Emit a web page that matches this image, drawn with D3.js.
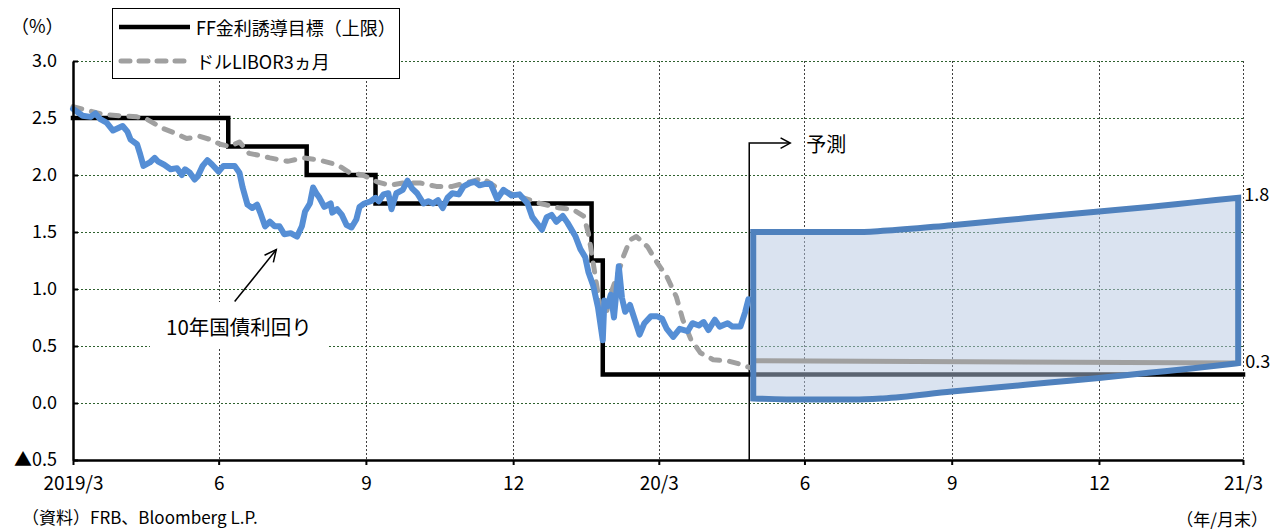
<!DOCTYPE html>
<html>
<head>
<meta charset="utf-8">
<script src="https://cdn.jsdelivr.net/npm/d3@7"></script>
<style>
  body { margin: 0; background: #fff; }
  svg { display: block; font-family: "Noto Sans CJK JP", "Liberation Sans", sans-serif; }
</style>
</head>
<body>
<svg id="chart" width="1270" height="530"></svg>
<script>
// ---- axis categories ----
const xTickDates  = ["2019-03-31","2019-06-30","2019-09-30","2019-12-31","2020-03-31","2020-06-30","2020-09-30","2020-12-31","2021-03-31"];
const xTickLabels = ["2019/3","6","9","12","20/3","6","9","12","21/3"];
const yTicks = [-0.5, 0, 0.5, 1.0, 1.5, 2.0, 2.5, 3.0];

// ---- FF rate target (upper bound), step changes ----
const ffDates = ["2019-03-31","2019-07-06","2019-08-24","2019-10-06","2020-02-18","2020-02-25","2021-03-31"];
const ffRate  = [2.50, 2.25, 2.00, 1.75, 1.25, 0.25, 0.25];

// ---- USD LIBOR 3M ----
const liborDates = ["2019-03-31","2019-04-11","2019-04-19","2019-04-29","2019-05-10","2019-05-16","2019-05-26","2019-06-04","2019-06-10","2019-06-18",
  "2019-06-25","2019-07-01","2019-07-07","2019-07-13","2019-07-19","2019-07-26","2019-08-01","2019-08-12","2019-08-22","2019-09-01",
  "2019-09-12","2019-09-20","2019-09-28","2019-10-07","2019-10-15","2019-10-23","2019-11-03","2019-11-13","2019-11-23","2019-12-04",
  "2019-12-12","2019-12-23","2020-01-04","2020-01-17","2020-01-29","2020-02-06","2020-02-13","2020-02-16","2020-02-19","2020-02-21",
  "2020-02-23","2020-02-27","2020-03-02","2020-03-07","2020-03-09","2020-03-13","2020-03-17","2020-03-24","2020-03-30","2020-04-05",
  "2020-04-11","2020-04-15","2020-04-20","2020-04-26","2020-05-04","2020-05-13","2020-05-21","2020-05-27"];
const liborRate = [2.60,2.56,2.53,2.52,2.51,2.49,2.41,2.36,2.32,2.34,
  2.31,2.27,2.25,2.29,2.19,2.17,2.15,2.12,2.15,2.13,
  2.09,2.02,2.00,1.94,1.91,1.93,1.93,1.90,1.90,1.94,
  1.97,1.87,1.81,1.75,1.71,1.70,1.64,1.49,1.23,1.05,
  0.88,0.78,1.00,1.20,1.29,1.43,1.46,1.37,1.23,1.11,
  0.93,0.73,0.56,0.44,0.38,0.37,0.34,0.31];

// ---- US 10-year Treasury yield ----
const ustDates = [
  "2019-03-31","2019-04-01","2019-04-06","2019-04-11","2019-04-14","2019-04-17","2019-04-21","2019-04-25",
  "2019-05-01","2019-05-04","2019-05-06","2019-05-10","2019-05-12","2019-05-14","2019-05-18","2019-05-21","2019-05-23","2019-05-27","2019-05-31",
  "2019-06-04","2019-06-07","2019-06-09","2019-06-12","2019-06-15","2019-06-17","2019-06-20","2019-06-23","2019-06-26","2019-06-30",
  "2019-07-03","2019-07-07","2019-07-10","2019-07-13","2019-07-15","2019-07-18","2019-07-21","2019-07-24","2019-07-26","2019-07-29",
  "2019-08-01","2019-08-04","2019-08-07","2019-08-10","2019-08-14","2019-08-18","2019-08-21","2019-08-23","2019-08-26","2019-08-28","2019-08-30",
  "2019-09-01","2019-09-04","2019-09-08","2019-09-09","2019-09-12","2019-09-15","2019-09-18","2019-09-21","2019-09-24","2019-09-26","2019-09-29",
  "2019-10-03","2019-10-06","2019-10-08","2019-10-11","2019-10-14","2019-10-16","2019-10-19","2019-10-23","2019-10-26","2019-10-29",
  "2019-11-01","2019-11-05","2019-11-08","2019-11-11","2019-11-14","2019-11-17","2019-11-20","2019-11-23","2019-11-27","2019-11-30",
  "2019-12-04","2019-12-07","2019-12-10","2019-12-13","2019-12-17","2019-12-21","2019-12-25","2019-12-30",
  "2020-01-04","2020-01-09","2020-01-12","2020-01-18","2020-01-21","2020-01-24","2020-01-27","2020-01-31",
  "2020-02-03","2020-02-08","2020-02-11","2020-02-14","2020-02-16","2020-02-19","2020-02-22","2020-02-25","2020-02-26","2020-02-28",
  "2020-03-01","2020-03-03","2020-03-06","2020-03-08","2020-03-10","2020-03-13","2020-03-16","2020-03-19","2020-03-22","2020-03-26","2020-03-30",
  "2020-04-02","2020-04-05","2020-04-09","2020-04-13","2020-04-18","2020-04-21","2020-04-25","2020-04-28",
  "2020-05-01","2020-05-05","2020-05-08","2020-05-13","2020-05-16","2020-05-21","2020-05-24","2020-05-26"];
const ustYield = [
  2.58,2.57,2.52,2.51,2.54,2.49,2.46,2.39,
  2.43,2.38,2.31,2.27,2.18,2.08,2.11,2.15,2.12,2.09,2.05,
  2.06,2.00,2.05,2.02,1.96,1.99,2.08,2.13,2.09,2.03,
  2.08,2.08,2.08,2.02,1.89,1.74,1.71,1.74,1.67,1.55,
  1.59,1.55,1.55,1.48,1.49,1.46,1.55,1.68,1.75,1.89,1.84,
  1.80,1.72,1.75,1.67,1.70,1.65,1.56,1.54,1.61,1.72,1.75,
  1.77,1.80,1.77,1.83,1.84,1.70,1.84,1.87,1.95,1.88,
  1.84,1.75,1.77,1.75,1.78,1.71,1.80,1.84,1.83,1.90,
  1.93,1.94,1.91,1.92,1.92,1.79,1.87,1.82,
  1.83,1.75,1.63,1.52,1.63,1.65,1.59,1.64,
  1.58,1.46,1.35,1.28,1.15,1.03,0.84,0.55,0.90,0.85,
  0.95,0.75,1.20,0.92,0.80,0.86,0.73,0.60,0.70,0.76,0.76,
  0.74,0.65,0.58,0.65,0.63,0.70,0.68,0.71,
  0.64,0.73,0.67,0.70,0.67,0.67,0.80,0.91];

// ---- forecast range for the 10-year yield ----
const fcDates = ["2020-05-29","2020-06-30","2020-07-31","2020-08-18","2020-09-30","2020-10-31","2020-11-30","2020-12-31","2021-01-31","2021-02-28","2021-03-28"];
const fcUpper = [1.50,1.50,1.50,1.51,1.56,1.60,1.64,1.68,1.72,1.76,1.80];
const fcLower = [0.04,0.03,0.03,0.04,0.10,0.14,0.18,0.22,0.265,0.305,0.35];

// ---- LIBOR forecast path ----
const liborFcDates = ["2020-05-29","2021-03-28"];
const liborFcRate  = [0.37, 0.35];

// ---------------------------------------------------------------
const parse = d3.timeParse("%Y-%m-%d");
const svg = d3.select("#chart");
const FONT = '"Noto Sans CJK JP", "Liberation Sans", sans-serif';

const x = d3.scaleTime()
  .domain([parse(xTickDates[0]), parse(xTickDates[xTickDates.length - 1])])
  .range([73, 1243]);
const y = d3.scaleLinear().domain([-0.5, 3.0]).range([460, 61]);

const toPts = (dates, vals) => dates.map((d, i) => ({ date: parse(d), v: vals[i] }));
const ff = toPts(ffDates, ffRate);
const libor = toPts(liborDates, liborRate);
const ust = toPts(ustDates, ustYield);
const liborFc = toPts(liborFcDates, liborFcRate);
const fan = fcDates.map((d, i) => ({ date: parse(d), hi: fcUpper[i], lo: fcLower[i] }));

// ---- gridlines ----
const grid = svg.append("g").attr("shape-rendering", "crispEdges");
grid.selectAll("line.h").data(yTicks.filter(v => v >= 0)).join("line")
  .attr("class", "h")
  .attr("x1", x.range()[0]).attr("x2", x.range()[1])
  .attr("y1", d => y(d) + 0.5).attr("y2", d => y(d) + 0.5)
  .attr("stroke", "#2f612f").attr("stroke-width", 1).attr("stroke-dasharray", "2,2");
grid.selectAll("line.v").data(xTickDates.slice(1).map(parse)).join("line")
  .attr("class", "v")
  .attr("x1", d => Math.round(x(d)) + 0.5).attr("x2", d => Math.round(x(d)) + 0.5)
  .attr("y1", y(3.0)).attr("y2", y(-0.5))
  .attr("stroke", "#404040").attr("stroke-width", 1).attr("stroke-dasharray", "2,2");

// white backing for the 10-year yield caption
svg.append("rect").attr("x", 150).attr("y", 302).attr("width", 178).attr("height", 46).attr("fill", "#fff");

// ---- FF target line ----
const lineGen = d3.line().x(d => x(d.date)).y(d => y(d.v));
svg.append("path").datum(ff)
  .attr("d", lineGen.curve(d3.curveStepAfter)(ff))
  .attr("fill", "none").attr("stroke", "#000").attr("stroke-width", 4.5)
  .attr("stroke-linecap", "square");

// ---- forecast marker: vertical line with arrow ----
function openHead(g, tipX, tipY, angle, len = 11, spread = 0.5) {
  const a1 = angle + Math.PI - spread, a2 = angle + Math.PI + spread;
  g.append("path")
    .attr("d", `M${tipX + len * Math.cos(a1)},${tipY + len * Math.sin(a1)}L${tipX},${tipY}L${tipX + len * Math.cos(a2)},${tipY + len * Math.sin(a2)}`)
    .attr("fill", "none").attr("stroke", "#000").attr("stroke-width", 1.5);
}
const fcX = x(fan[0].date) - 4;
const markY = y(2.28);
const marker = svg.append("g");
marker.append("path")
  .attr("d", `M${fcX},${y(-0.5)}V${markY}H${fcX + 41}`)
  .attr("fill", "none").attr("stroke", "#000").attr("stroke-width", 1.5);
openHead(marker, fcX + 41, markY, 0);
marker.append("text").attr("x", fcX + 57).attr("y", markY)
  .attr("dominant-baseline", "central").attr("font-size", 20).attr("font-family", FONT)
  .text("予測");

// ---- forecast range fill ----
const fanArea = d3.area().x(d => x(d.date)).y0(d => y(d.lo)).y1(d => y(d.hi)).curve(d3.curveMonotoneX);
svg.append("path").datum(fan).attr("d", fanArea)
  .attr("fill", "rgba(182,200,225,0.5)").attr("stroke", "none");

// ---- LIBOR ----
svg.append("path").datum(libor)
  .attr("d", d3.line().x(d => x(d.date)).y(d => y(d.v)))
  .attr("fill", "none").attr("stroke", "#a0a0a0").attr("stroke-width", 5)
  .attr("stroke-dasharray", "9,10").attr("stroke-linecap", "round").attr("stroke-linejoin", "round");
svg.append("path").datum(liborFc)
  .attr("d", d3.line().x(d => x(d.date)).y(d => y(d.v)))
  .attr("fill", "none").attr("stroke", "#a0a0a0").attr("stroke-width", 5);

// ---- 10-year yield ----
svg.append("path").datum(ust)
  .attr("d", d3.line().x(d => x(d.date)).y(d => y(d.v)))
  .attr("fill", "none").attr("stroke", "#558ed5").attr("stroke-width", 6)
  .attr("stroke-linejoin", "round").attr("stroke-linecap", "round");

// ---- forecast range outline ----
svg.append("path").datum(fan).attr("d", fanArea)
  .attr("fill", "none").attr("stroke", "#4f81bd").attr("stroke-width", 6)
  .attr("stroke-linejoin", "miter");

// end-of-range value labels
const fmt = d3.format(".1f");
const last = fan[fan.length - 1];
svg.append("text").attr("x", x(last.date) + 6).attr("y", y(last.hi) - 5)
  .attr("dominant-baseline", "central").attr("font-size", 18).attr("font-family", FONT)
  .text(fmt(last.hi));
svg.append("text").attr("x", x(last.date) + 7).attr("y", y(last.lo) - 3)
  .attr("dominant-baseline", "central").attr("font-size", 18).attr("font-family", FONT)
  .text(fmt(last.lo));

// ---- axes ----
const xAxis = d3.axisBottom(x)
  .tickValues(xTickDates.map(parse))
  .tickFormat((d, i) => xTickLabels[i])
  .tickSizeInner(5).tickSizeOuter(0).tickPadding(12);
svg.append("g").attr("transform", `translate(0,${y(-0.5)})`).call(xAxis)
  .call(g => g.select(".domain").attr("stroke-width", 2.5))
  .call(g => g.selectAll(".tick line").attr("stroke-width", 2))
  .call(g => g.selectAll("text").attr("font-size", 19).attr("font-family", FONT).attr("fill", "#000"));

const yAxis = d3.axisLeft(y)
  .tickValues(yTicks)
  .tickFormat(d => d < 0 ? "▲" + fmt(-d) : fmt(d))
  .tickSizeInner(-5).tickSizeOuter(0).tickPadding(16);
svg.append("g").attr("transform", `translate(${x.range()[0]},0)`).call(yAxis)
  .call(g => g.select(".domain").attr("stroke-width", 2.5))
  .call(g => g.selectAll(".tick line").attr("stroke-width", 2))
  .call(g => g.selectAll("text").attr("font-size", 18).attr("font-family", FONT).attr("fill", "#000"));

// ---- annotation for the 10-year yield ----
const ann = svg.append("g");
const tail = [x(parse("2019-07-10")), y(0.89)];
const tip = [x(parse("2019-08-05")), y(1.345)];
ann.append("line").attr("x1", tail[0]).attr("y1", tail[1]).attr("x2", tip[0]).attr("y2", tip[1])
  .attr("stroke", "#000").attr("stroke-width", 1.5);
openHead(ann, tip[0], tip[1], Math.atan2(tip[1] - tail[1], tip[0] - tail[0]), 13, 0.45);
ann.append("text").attr("x", 166).attr("y", 326)
  .attr("dominant-baseline", "central").attr("font-size", 20.5).attr("font-family", FONT)
  .text("10年国債利回り");

// ---- unit and source texts ----
svg.append("text").attr("x", 11).attr("y", 25).attr("dominant-baseline", "central")
  .attr("font-size", 18).attr("font-family", FONT).text("（%）");
svg.append("text").attr("x", 1268).attr("y", 518).attr("dominant-baseline", "central")
  .attr("text-anchor", "end").attr("font-size", 17).attr("font-family", FONT).text("（年/月末）");
svg.append("text").attr("x", 22).attr("y", 524)
  .attr("font-size", 17).attr("font-family", FONT).text("（資料）FRB、Bloomberg L.P.");

// ---- legend ----
const lg = svg.append("g");
lg.append("rect").attr("x", 112.5).attr("y", 8.5).attr("width", 287).attr("height", 70)
  .attr("fill", "#fff").attr("stroke", "#000").attr("stroke-width", 1);
lg.append("line").attr("x1", 119).attr("x2", 190).attr("y1", 27).attr("y2", 27)
  .attr("stroke", "#000").attr("stroke-width", 4.5);
lg.append("text").attr("x", 196).attr("y", 27).attr("dominant-baseline", "central")
  .attr("font-size", 18).attr("font-family", FONT).text("FF金利誘導目標（上限）");
lg.append("line").attr("x1", 121).attr("x2", 190).attr("y1", 61).attr("y2", 61)
  .attr("stroke", "#a0a0a0").attr("stroke-width", 5)
  .attr("stroke-dasharray", "9,9").attr("stroke-linecap", "round");
lg.append("text").attr("x", 196).attr("y", 61).attr("dominant-baseline", "central")
  .attr("font-size", 18).attr("font-family", FONT).text("ドルLIBOR3ヵ月");
</script>
</body>
</html>
